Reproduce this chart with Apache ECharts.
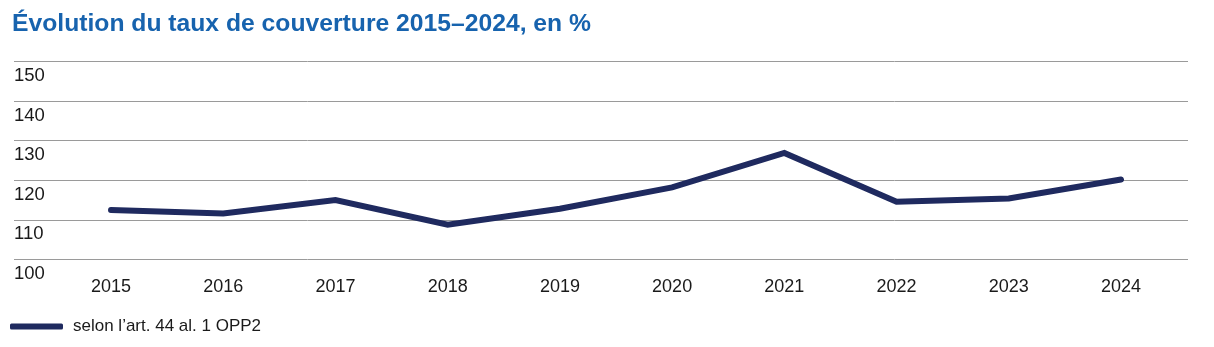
<!DOCTYPE html>
<html>
<head>
<meta charset="utf-8">
<script src="https://cdn.jsdelivr.net/npm/echarts@6/dist/echarts.min.js"></script>
<style>
html,body{margin:0;padding:0;background:#fff;}
#chart{width:1214px;height:347px;}
</style>
</head>
<body>
<div id="chart"></div>
<script>
const titleText = 'Évolution du taux de couverture 2015–2024, en %';
const seriesName = 'selon l’art. 44 al. 1 OPP2';
const years = [2015, 2016, 2017, 2018, 2019, 2020, 2021, 2022, 2023, 2024];
const coverage = [112.5, 111.6, 115.0, 108.8, 112.8, 118.2, 126.9, 114.6, 115.4, 120.2];
const yTicks = [100, 110, 120, 130, 140, 150];

const chart = echarts.init(document.getElementById('chart'), null, {renderer: 'canvas'});
const textColor = '#1a1a1a';
const font = 'Liberation Sans, Arial, sans-serif';

chart.setOption({
  animation: false,
  backgroundColor: '#ffffff',
  title: {
    text: titleText,
    left: 12,
    top: 12,
    padding: 0,
    textStyle: {
      fontFamily: font,
      fontWeight: 'bold',
      fontSize: 24.7,
      color: '#1763ae'
    }
  },
  legend: {
    left: 10,
    top: 318,
    padding: 0,
    icon: 'roundRect',
    itemWidth: 53,
    itemHeight: 6,
    itemGap: 10,
    textStyle: {fontFamily: font, fontSize: 17, color: textColor, padding: [0, 0, 0, 5]},
    data: [seriesName]
  },
  grid: {left: 14, right: 26, top: 61.5, bottom: 87.5, containLabel: false},
  xAxis: {
    type: 'value',
    min: 2014.1355,
    max: 2024.597,
    splitLine: {show: false},
    axisLine: {show: false},
    axisTick: {show: false},
    axisLabel: {
      customValues: years,
      formatter: v => String(v),
      fontFamily: font,
      fontSize: 18,
      color: textColor,
      margin: 19,
      showMinLabel: true,
      showMaxLabel: true
    }
  },
  yAxis: {
    type: 'value',
    min: 100,
    max: 150,
    interval: 10,
    axisLine: {show: false},
    axisTick: {show: false},
    splitLine: {show: true, lineStyle: {color: '#9a9a9a', width: 1}},
    axisLabel: {
      inside: true,
      margin: 0,
      align: 'left',
      verticalAlign: 'top',
      padding: [5, 0, 0, 0],
      fontFamily: font,
      fontSize: 18.5,
      color: textColor,
      customValues: yTicks
    }
  },
  series: [{
    name: seriesName,
    type: 'line',
    data: years.map((y, i) => [y, coverage[i]]),
    showSymbol: false,
    symbol: 'none',
    lineStyle: {color: '#1f2a5f', width: 6, cap: 'round', join: 'miter'},
    itemStyle: {color: '#1f2a5f'}
  }]
});
</script>
</body>
</html>
